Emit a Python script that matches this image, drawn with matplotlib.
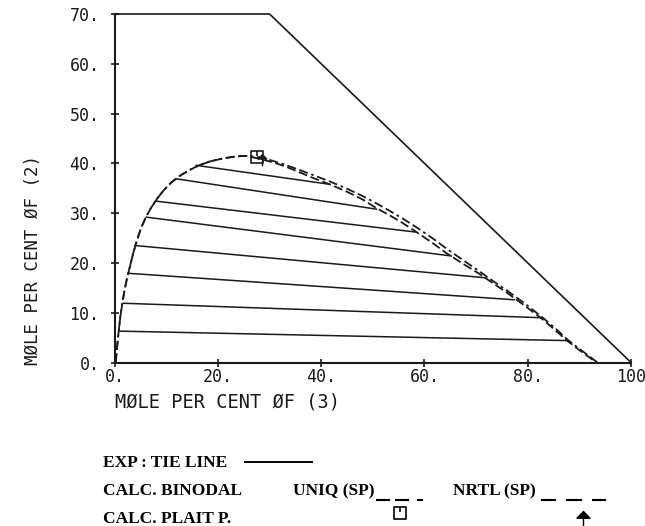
import matplotlib
matplotlib.use('Agg')
import matplotlib.pyplot as plt
from matplotlib.lines import Line2D
from matplotlib.path import Path

# experimental tie lines: (mole % of 3, mole % of 2) at both ends
tie_x1 = [1.0, 1.7, 2.9, 3.9, 6.1, 8.1, 11.9, 15.8]
tie_y1 = [6.3, 11.9, 17.9, 23.5, 29.2, 32.4, 36.9, 39.6]
tie_x2 = [87.6, 82.6, 77.4, 72.0, 65.2, 58.3, 50.7, 41.6]
tie_y2 = [4.4, 9.0, 12.6, 17.0, 21.4, 26.2, 30.8, 35.8]

# calculated binodal curves (left leg read once, both models overlap there)
left_x = [0.2, 0.5, 0.8, 1.1, 1.5, 1.9, 2.4, 3.0, 3.6, 4.3, 5.1, 6.0, 7.0, 8.2, 9.5,
          11.0, 12.6, 14.4, 16.3, 18.5, 21.0, 23.5, 25.5]
left_y = [0, 3.5, 6.5, 9.3, 12.0, 14.5, 17.0, 19.5, 22.0, 24.5, 27.0, 29.1, 31.0, 32.9, 34.6,
          36.2, 37.5, 38.6, 39.6, 40.4, 41.0, 41.4, 41.5]
uniq_rx = [27.6, 30.0, 32.5, 35.2, 38.3, 41.6, 45.0, 48.1, 50.8, 53.2, 55.8, 58.4, 61.5,
           64.5, 67.7, 70.8, 73.5, 75.8, 79.5, 82.8, 85.3, 87.8, 90.7, 93.5]
uniq_ry = [41.3, 40.7, 39.9, 38.9, 37.7, 36.4, 34.9, 33.4, 31.9, 30.5, 28.9, 27.2, 25.0,
           22.7, 20.4, 18.2, 16.2, 14.6, 11.8, 9.1, 6.9, 4.5, 2.2, 0]
nrtl_rx = [28.5, 31.0, 33.5, 35.8, 38.6, 41.6, 45.0, 48.1, 50.7, 53.2, 55.8, 58.3, 61.3,
           64.2, 67.5, 70.5, 73.3, 75.6, 79.3, 82.6, 85.1, 87.6, 90.5, 93.3]
nrtl_ry = [40.8, 40.1, 39.2, 38.2, 37.0, 35.8, 34.3, 32.7, 31.0, 29.6, 28.0, 26.3, 24.2,
           22.0, 19.8, 17.9, 15.9, 14.3, 11.5, 8.9, 6.7, 4.4, 2.1, 0]

# calculated plait points
uniq_plait_x, uniq_plait_y = [27.6], [41.2]
nrtl_plait_x, nrtl_plait_y = [28.5], [40.6]

# edge of the diagram (x3 + x2 = 100, cut at 70)
edge_x = [0, 30, 100]
edge_y = [70, 70, 0]

xticks = [0, 20, 40, 60, 80, 100]
xticklabels = ['0.', '20.', '40.', '60.', '80.', '100']
yticks = [0, 10, 20, 30, 40, 50, 60, 70]
yticklabels = ['0.', '10.', '20.', '30.', '40.', '50.', '60.', '70.']

ink = '#1a1a1a'
W, H = 645, 526

# markers: square with a tick (UNIQ), arrow (NRTL)
M, L, C = Path.MOVETO, Path.LINETO, Path.CLOSEPOLY
sq_marker = Path([(-1, -1), (1, -1), (1, 1), (-1, 1), (-1, -1), (0, 1), (0, 0.1)],
                 [M, L, L, L, C, M, L])
arrow_marker = Path([(0, -1), (0, 0.25), (-0.72, 0.25), (0, 1), (0.72, 0.25), (0, 0.25)],
                    [M, L, M, L, L, C])

fig = plt.figure(figsize=(W / 100, H / 100), dpi=100)
ax = fig.add_axes([114.7 / W, 1 - 362.5 / H, 516.3 / W, 348.5 / H])

ax.plot(edge_x, edge_y, color=ink, lw=1.2, clip_on=False)
for xa, ya, xb, yb in zip(tie_x1, tie_y1, tie_x2, tie_y2):
    ax.plot([xa, xb], [ya, yb], color=ink, lw=1.1)
ax.plot(left_x + uniq_rx, left_y + uniq_ry, color=ink, lw=1.3, dashes=(5, 2, 5, 2, 1.5, 2))
ax.plot(left_x + nrtl_rx, left_y + nrtl_ry, color=ink, lw=1.3, dashes=(5, 2))
ax.plot(uniq_plait_x, uniq_plait_y, ls='none', marker=sq_marker, ms=8.5,
        mfc='none', mec=ink, mew=1.2)
ax.plot(nrtl_plait_x, nrtl_plait_y, ls='none', marker=arrow_marker, ms=8.5,
        mfc=ink, mec=ink, mew=1.0)

ax.set_xlim(0, 100)
ax.set_ylim(0, 70)
mono = dict(fontfamily='DejaVu Sans Mono', fontsize=12, color=ink)
ax.set_xticks(xticks, xticklabels, **mono)
ax.set_yticks(yticks, yticklabels, **mono)
ax.tick_params(direction='inout', length=6, width=1.2, color=ink)
ax.tick_params(axis='x', pad=1)
ax.tick_params(axis='y', pad=8)
for s in ['top', 'right']:
    ax.spines[s].set_visible(False)
for s in ['left', 'bottom']:
    ax.spines[s].set_linewidth(1.5)
    ax.spines[s].set_color(ink)

ax.set_xlabel('MØLE PER CENT ØF (3)', loc='left', labelpad=5,
              fontfamily='DejaVu Sans Mono', fontsize=13.4, color=ink)
ax.set_ylabel('MØLE PER CENT ØF (2)', loc='bottom',
              fontfamily='DejaVu Sans Mono', fontsize=12.5, color=ink)
ax.yaxis.set_label_coords(-0.14, -0.007)


# key below the chart, drawn in figure pixels
def fx(x):
    return x / W


def fy(y):
    return 1 - y / H


key = dict(family='Liberation Serif', weight='bold', size=12.5, color='black', va='baseline')
fig.text(fx(102.7), fy(466.7), 'EXP : TIE LINE', **key)
fig.text(fx(102.7), fy(495), 'CALC. BINODAL', **key)
fig.text(fx(293.3), fy(495), 'UNIQ (SP)', **key)
fig.text(fx(453.3), fy(495), 'NRTL (SP)', **key)
fig.text(fx(102.7), fy(523.3), 'CALC. PLAIT P.', **key)

fig.add_artist(Line2D([fx(245), fx(312)], [fy(461.5)], color='black', lw=1.4))
for a, b in [(377, 389), (396, 408), (418, 422)]:
    fig.add_artist(Line2D([fx(a), fx(b)], [fy(500), fy(500)], color='black', lw=1.5))
for a, b in [(542, 555), (567, 581), (593, 605)]:
    fig.add_artist(Line2D([fx(a), fx(b)], [fy(499.5), fy(499.5)], color='black', lw=1.5))
fig.add_artist(Line2D([fx(399.7)], [fy(512.5)], marker=sq_marker, ms=8.3,
                      mfc='none', mec='black', mew=1.2))
fig.add_artist(Line2D([fx(583.3)], [fy(519.5)], marker=arrow_marker, ms=13,
                      mfc='black', mec='black', mew=1.0))

fig.savefig('out.png', dpi=100)
